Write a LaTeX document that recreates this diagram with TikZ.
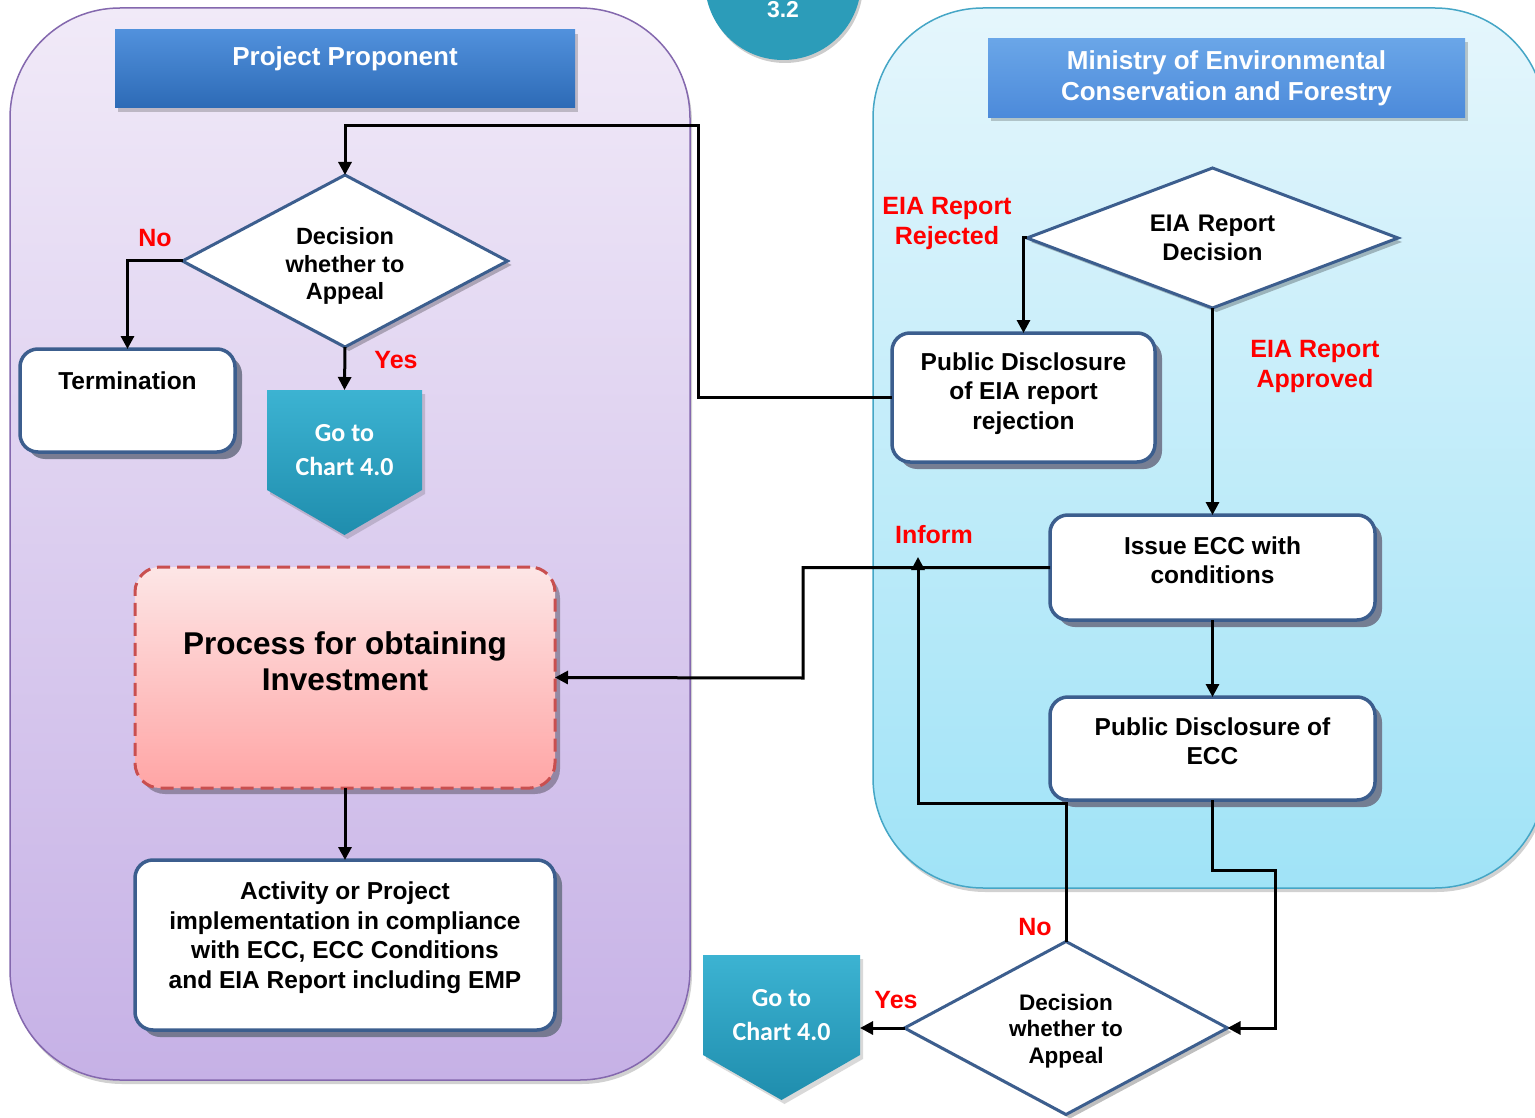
\documentclass[tikz,border=0pt]{standalone}
\usepackage{fontspec}
\setmainfont{Liberation Sans}
\newfontfamily\gofont{Carlito}
\usetikzlibrary{shapes.geometric,shadows,arrows.meta,calc}
\definecolor{pltop}{HTML}{F1EAF8}
\definecolor{plbot}{HTML}{C6B1E6}
\definecolor{plline}{HTML}{8468AE}
\definecolor{prtop}{HTML}{E5F6FC}
\definecolor{prbot}{HTML}{A0E3F7}
\definecolor{prline}{HTML}{45A6C6}
\definecolor{hatop}{HTML}{5191DC}
\definecolor{habot}{HTML}{2D6AB6}
\definecolor{hbtop}{HTML}{6AA6E8}
\definecolor{hbbot}{HTML}{4C8ADA}
\definecolor{boxline}{HTML}{3C5E8E}
\definecolor{shadowc}{HTML}{6E7388}
\definecolor{gotop}{HTML}{3CB3D2}
\definecolor{gobot}{HTML}{1F8DAD}
\definecolor{circc}{HTML}{2C9CB9}
\definecolor{procline}{HTML}{C94F4F}
\definecolor{proctop}{HTML}{FDE6E6}
\definecolor{procbot}{HTML}{FFA5A5}
\definecolor{labred}{HTML}{FF0000}
\begin{document}
\begin{tikzpicture}[x=1pt,y=-1pt,
  panel/.style={rectangle,line width=1.5pt,rounded corners=110pt,inner sep=0pt,outer sep=0pt,
    drop shadow={shadow xshift=2pt,shadow yshift=-4pt,fill=black,opacity=.18}},
  hdr/.style={rectangle,inner sep=0pt,outer sep=0pt,text=white,align=center,
    font=\fontsize{26}{31}\selectfont\bfseries,
    drop shadow={shadow xshift=3pt,shadow yshift=-4pt,fill=black,opacity=.2}},
  box/.style={rectangle,rounded corners=18pt,draw=boxline,line width=3.5pt,fill=white,
    inner sep=0pt,outer sep=0pt,
    drop shadow={shadow xshift=7pt,shadow yshift=-7pt,fill=shadowc,opacity=.9}},
  boxtxt/.style={inner sep=0pt,align=center,font=\fontsize{24.5}{29.5}\selectfont\bfseries},
  dec/.style={diamond,draw=boxline,line width=3pt,fill=white,inner sep=0pt,outer sep=0pt,
    align=center,text width=140pt,
    drop shadow={shadow xshift=4pt,shadow yshift=-4pt,fill=black,opacity=.25}},
  gobox/.style={rectangle,inner sep=0pt,outer sep=0pt},
  gotxt/.style={inner sep=0pt,align=center,text=white,font=\gofont\bfseries\fontsize{26}{34}\selectfont},
  lab/.style={inner sep=0pt,align=center,text=labred,font=\fontsize{25}{30}\selectfont\bfseries},
  arr/.style={line width=3pt,-{Triangle[length=13pt,width=13pt]}}]
\useasboundingbox (0,0) rectangle (1535,1118);
\clip (0,0) rectangle (1535,1118);
\fill[white] (0,0) rectangle (1535,1118);

% panels
\node[panel,draw=plline,top color=pltop,bottom color=plbot,minimum width=680pt,minimum height=1072pt] (pl) at (350,544) {};
\node[panel,draw=prline,top color=prtop,bottom color=prbot,minimum width=672pt,minimum height=880pt] (pr) at (1209,448) {};

% step circle
\node[circle,fill=circc,minimum size=156pt,inner sep=0pt,
  drop shadow={shadow xshift=2pt,shadow yshift=-3pt,fill=black,opacity=.2}] (c32) at (783,-18) {};
\node[inner sep=0pt,text=white,font=\fontsize{23}{27}\selectfont\bfseries] (t32) at (783,10) {3.2};

% headers
\node[hdr,top color=hatop,bottom color=habot,minimum width=460pt,minimum height=78pt,
  text height=18pt,text depth=24pt] (h1) at (345,69) {Project Proponent};
\node[hdr,top color=hbtop,bottom color=hbbot,minimum width=477pt,minimum height=79pt] (h2) at (1226.5,78) {Ministry of Environmental\\Conservation and Forestry};

% decisions
\node[dec,aspect=1.89,minimum width=325pt,minimum height=172pt] (d1) at (345,261) {};
\node[inner sep=0pt,align=center,font=\fontsize{23.5}{27.5}\selectfont\bfseries] (d1t) at (345,266) {Decision\\whether to\\Appeal};
\node[dec,aspect=2.65,minimum width=371pt,minimum height=140pt,
  font=\fontsize{24}{28.5}\selectfont\bfseries] (d2) at (1212.5,238) {EIA Report\\Decision};
\node[dec,aspect=1.87,minimum width=323pt,minimum height=173pt] (d3) at (1066,1028) {};
\node[inner sep=0pt,align=center,font=\fontsize{22.5}{26.5}\selectfont\bfseries] (d3t) at (1066,1031) {Decision\\whether to\\Appeal};

% boxes
\node[box,minimum width=215pt,minimum height=103pt,text height=18pt,text depth=41pt,
  font=\fontsize{24.5}{29.5}\selectfont\bfseries] (term) at (127.5,400.5) {Termination};
\node[box,minimum width=263pt,minimum height=129pt] (pdr) at (1023.5,397.5) {};
\node[boxtxt] (pdrt) at (1023.5,393.5) {Public Disclosure\\of EIA report\\rejection};
\node[box,minimum width=325pt,minimum height=105pt] (issue) at (1212.5,567.5) {};
\node[boxtxt] (issuet) at (1212.5,560) {Issue ECC with\\conditions};
\node[box,minimum width=325pt,minimum height=103pt] (pde) at (1212.5,748.5) {};
\node[boxtxt] (pdet) at (1212.5,741) {Public Disclosure of\\ECC};
\node[rectangle,rounded corners=25pt,draw=procline,line width=3pt,dash pattern=on 13pt off 7pt,
  top color=proctop,bottom color=procbot,minimum width=420pt,minimum height=221pt,inner sep=0pt,outer sep=0pt,
  drop shadow={shadow xshift=5pt,shadow yshift=-6pt,fill=black,opacity=.3}] (proc) at (345,677.5) {};
\node[inner sep=0pt,align=center,font=\fontsize{31.5}{36}\selectfont\bfseries] (proct) at (345,661) {Process for obtaining\\Investment};
\node[box,minimum width=420pt,minimum height=170pt] (act) at (345,945) {};
\node[boxtxt] (actt) at (345,937.5) {Activity or Project\\implementation in compliance\\with ECC, ECC Conditions\\and EIA Report including EMP};

% go-to shapes
\node[gobox,minimum width=155pt,minimum height=120pt] (go1) at (344.5,450) {};
\fill[black,opacity=.15] ($(go1.north west)+(3,4)$) -- ($(go1.north east)+(3,4)$) -- ($(go1.south east)+(3,-16)$) -- ($(go1.south)+(3,29)$) -- ($(go1.south west)+(3,-16)$) -- cycle;
\shade[top color=gotop,bottom color=gobot] (go1.north west) -- (go1.north east) -- ($(go1.south east)+(0,-20)$) -- ($(go1.south)+(0,25)$) -- ($(go1.south west)+(0,-20)$) -- cycle;
\node[gotxt] (go1t) at (go1) {Go to\\Chart 4.0};

\node[gobox,minimum width=157pt,minimum height=120pt] (go2) at (781.5,1015) {};
\fill[black,opacity=.15] ($(go2.north west)+(3,4)$) -- ($(go2.north east)+(3,4)$) -- ($(go2.south east)+(3,-16)$) -- ($(go2.south)+(3,29)$) -- ($(go2.south west)+(3,-16)$) -- cycle;
\shade[top color=gotop,bottom color=gobot] (go2.north west) -- (go2.north east) -- ($(go2.south east)+(0,-20)$) -- ($(go2.south)+(0,25)$) -- ($(go2.south west)+(0,-20)$) -- cycle;
\node[gotxt] (go2t) at (go2) {Go to\\Chart 4.0};

% bend coordinates
\coordinate (bA) at (698,126);
\coordinate (bInf) at (803,678);
\coordinate (bR) at (1275,870);
\coordinate (bN) at (918,803);
\coordinate (bNend) at (918,557);

% connectors
\draw[arr] (pdr.west) -| (bA) -| (d1.north);
\draw[arr] (d1.west) -| (term.north);
\draw[arr] (d1.south) -- (go1.north);
\draw[arr] (d2.west) -| (pdr.north);
\draw[arr] (d2.south) -- (issue.north);
\draw[arr] (issue.west) -| (bInf) -- (proc.east);
\draw[arr] (issue.south) -- (pde.north);
\draw[arr] (pde.south) |- (bR) |- (d3.east);
\draw[arr] (d3.north) |- (bN) -- (bNend);
\draw[arr] (d3.west) -- (d3.west -| go2.east);
\draw[arr] (proc.south) -- (act.north);

% labels
\node[lab] (lNo1) at (155,238) {No};
\node[lab] (lYes1) at (396,360) {Yes};
\node[lab] (lRej) at (947,223) {EIA Report\\Rejected};
\node[lab] (lApp) at (1315,366) {EIA Report\\Approved};
\node[lab] (lInf) at (934,535) {Inform};
\node[lab] (lNo2) at (1035,927) {No};
\node[lab] (lYes2) at (896,1000) {Yes};
\end{tikzpicture}
\end{document}
